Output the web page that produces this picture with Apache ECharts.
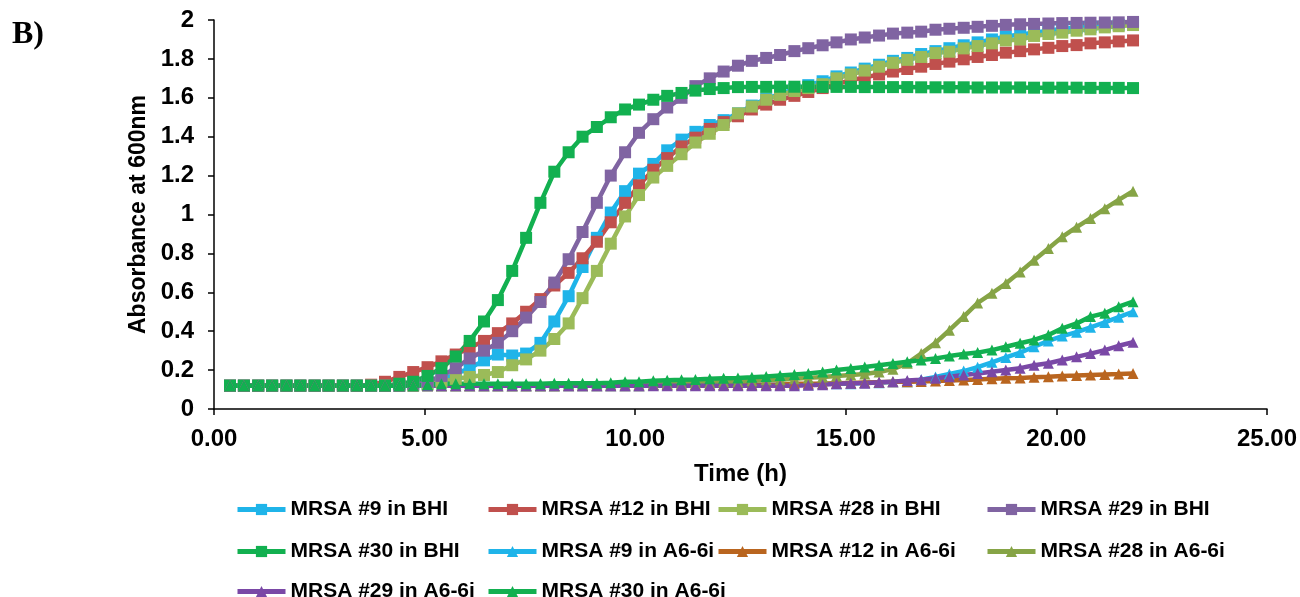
<!DOCTYPE html>
<html>
<head>
<meta charset="utf-8">
<script src="https://cdn.jsdelivr.net/npm/echarts@6/dist/echarts.min.js"></script>
<style>
  html, body { margin: 0; padding: 0; background: #fff; }
  #chart-container { width: 1300px; height: 597px; }
</style>
</head>
<body>
<div id="chart-container"></div>
<script>
// time points (h)
const times = [0.38, 0.71, 1.05, 1.38, 1.72, 2.05, 2.39, 2.72, 3.06, 3.39, 3.73, 4.06, 4.40, 4.73, 5.07, 5.40,
  5.74, 6.07, 6.41, 6.74, 7.08, 7.41, 7.75, 8.08, 8.42, 8.75, 9.09, 9.42, 9.76, 10.09, 10.43, 10.76,
  11.10, 11.43, 11.77, 12.10, 12.44, 12.77, 13.11, 13.44, 13.78, 14.11, 14.45, 14.78, 15.12, 15.45, 15.79, 16.12,
  16.46, 16.79, 17.13, 17.46, 17.80, 18.13, 18.47, 18.80, 19.14, 19.47, 19.81, 20.14, 20.48, 20.81, 21.15, 21.48, 21.82];

// absorbance at 600nm
const bhi9 = [0.12, 0.12, 0.12, 0.12, 0.12, 0.12, 0.12, 0.12, 0.12, 0.12, 0.12, 0.12, 0.12, 0.125,
  0.13, 0.15, 0.18, 0.21, 0.25, 0.28, 0.275, 0.285, 0.34, 0.45, 0.58, 0.73, 0.88, 1.01, 1.12, 1.21, 1.26,
  1.33, 1.385, 1.425, 1.46, 1.485, 1.52, 1.56, 1.595, 1.62, 1.645, 1.665, 1.685, 1.71, 1.73, 1.75, 1.77,
  1.79, 1.805, 1.825, 1.84, 1.855, 1.87, 1.885, 1.90, 1.915, 1.925, 1.935, 1.945, 1.955, 1.96, 1.965, 1.97, 1.975, 1.98];
const bhi12 = [0.12, 0.12, 0.12, 0.12, 0.12, 0.12, 0.12, 0.12, 0.12, 0.12,
  0.125, 0.14, 0.165, 0.19, 0.215, 0.245, 0.28, 0.315, 0.35, 0.39, 0.44, 0.50, 0.565, 0.635, 0.70, 0.775,
  0.86, 0.96, 1.06, 1.15, 1.23, 1.29, 1.35, 1.395, 1.44, 1.475, 1.505, 1.54, 1.565, 1.59, 1.61, 1.63,
  1.65, 1.67, 1.69, 1.705, 1.72, 1.735, 1.748, 1.76, 1.774, 1.786, 1.798, 1.81, 1.82, 1.832, 1.84, 1.849,
  1.857, 1.866, 1.871, 1.88, 1.885, 1.89, 1.895];
const bhi28 = [0.12, 0.12, 0.12, 0.12, 0.12, 0.12, 0.12, 0.12, 0.12, 0.12, 0.12, 0.12, 0.12, 0.12,
  0.125, 0.14, 0.155, 0.165, 0.175, 0.19, 0.225, 0.255, 0.30, 0.36, 0.44, 0.57, 0.71, 0.85, 0.99, 1.10,
  1.19, 1.25, 1.31, 1.37, 1.415, 1.46, 1.52, 1.555, 1.59, 1.615, 1.635, 1.65, 1.67, 1.70, 1.72, 1.74,
  1.76, 1.78, 1.795, 1.81, 1.83, 1.837, 1.854, 1.866, 1.88, 1.895, 1.90, 1.918, 1.928, 1.935, 1.945,
  1.952, 1.962, 1.968, 1.974];
const bhi29 = [0.12, 0.12, 0.12, 0.12, 0.12, 0.12, 0.12, 0.12, 0.12, 0.12, 0.12, 0.12, 0.12,
  0.13, 0.14, 0.17, 0.21, 0.26, 0.30, 0.34, 0.40, 0.47, 0.55, 0.65, 0.77, 0.91, 1.06, 1.20, 1.32, 1.42,
  1.49, 1.55, 1.60, 1.66, 1.70, 1.735, 1.765, 1.79, 1.805, 1.82, 1.84, 1.855, 1.87, 1.885, 1.90, 1.91,
  1.92, 1.93, 1.935, 1.94, 1.95, 1.955, 1.96, 1.965, 1.97, 1.975, 1.978, 1.98, 1.982, 1.984, 1.985,
  1.986, 1.987, 1.988, 1.99];
const bhi30 = [0.12, 0.12, 0.12, 0.12, 0.12, 0.12, 0.12, 0.12, 0.12, 0.12, 0.12, 0.12,
  0.13, 0.14, 0.17, 0.21, 0.27, 0.35, 0.45, 0.56, 0.71, 0.88, 1.06, 1.22, 1.32, 1.40, 1.45, 1.50, 1.54,
  1.565, 1.59, 1.61, 1.625, 1.637, 1.645, 1.65,
  1.655, 1.656, 1.656, 1.657, 1.657, 1.657, 1.656, 1.656, 1.656, 1.655, 1.655, 1.655, 1.655, 1.654,
  1.654, 1.654, 1.654, 1.653, 1.653, 1.653, 1.653, 1.652, 1.652, 1.652, 1.652, 1.651, 1.651, 1.651, 1.65];
const a9 = [0.12, 0.12, 0.12, 0.12, 0.12, 0.12, 0.12, 0.12, 0.12, 0.12, 0.12, 0.12, 0.12, 0.12, 0.12,
  0.12, 0.12, 0.12, 0.12, 0.12, 0.12, 0.12, 0.12, 0.12, 0.12, 0.12, 0.12, 0.12, 0.12, 0.12,
  0.125, 0.125, 0.125, 0.125, 0.125, 0.125, 0.125, 0.125, 0.125, 0.125, 0.125,
  0.125, 0.13, 0.13, 0.13, 0.135, 0.135, 0.14, 0.14, 0.15, 0.165, 0.18, 0.195, 0.215, 0.24, 0.265,
  0.29, 0.32, 0.35, 0.375, 0.395, 0.42, 0.445, 0.472, 0.50];
const a12 = [0.12, 0.12, 0.12, 0.12, 0.12, 0.12, 0.12, 0.12, 0.12, 0.12, 0.12, 0.12, 0.12, 0.12, 0.12,
  0.12, 0.12, 0.12, 0.12, 0.12, 0.12, 0.12, 0.12, 0.12, 0.12, 0.12, 0.12, 0.12, 0.12, 0.12,
  0.125, 0.125, 0.125, 0.125, 0.125, 0.125, 0.125, 0.125, 0.125, 0.125,
  0.13, 0.13, 0.13, 0.132, 0.134, 0.136, 0.138, 0.14, 0.14, 0.142, 0.144, 0.146, 0.149, 0.152, 0.155,
  0.158, 0.16, 0.163, 0.166, 0.17, 0.172, 0.175, 0.178, 0.18, 0.183];
const a28 = [0.12, 0.12, 0.12, 0.12, 0.12, 0.12, 0.12, 0.12, 0.12, 0.12, 0.12, 0.12, 0.12, 0.12, 0.12,
  0.12, 0.12, 0.12, 0.12, 0.12, 0.12, 0.12, 0.12, 0.12,
  0.125, 0.125, 0.125, 0.125, 0.125, 0.125, 0.125,
  0.13, 0.13, 0.135, 0.135, 0.14, 0.14, 0.145, 0.15, 0.15, 0.155, 0.16, 0.165, 0.17, 0.175, 0.18, 0.19,
  0.205, 0.235, 0.285, 0.34, 0.405, 0.475, 0.545, 0.595, 0.645, 0.705, 0.765, 0.825, 0.885, 0.935,
  0.98, 1.03, 1.075, 1.12];
const a29 = [0.12, 0.12, 0.12, 0.12, 0.12, 0.12, 0.12, 0.12, 0.12, 0.12, 0.12, 0.12, 0.12, 0.12, 0.12,
  0.12, 0.12, 0.12, 0.12, 0.12, 0.12, 0.12, 0.12, 0.12, 0.12, 0.12, 0.12, 0.12, 0.12, 0.12, 0.12,
  0.12, 0.12, 0.12, 0.12, 0.12, 0.12, 0.12, 0.12, 0.12, 0.12,
  0.122, 0.125, 0.13, 0.132, 0.133, 0.138, 0.14, 0.147, 0.15, 0.158, 0.166, 0.175, 0.183, 0.192, 0.20,
  0.21, 0.225, 0.235, 0.252, 0.268, 0.285, 0.303, 0.325, 0.343];
const a30 = [0.12, 0.12, 0.12, 0.12, 0.12, 0.12, 0.12, 0.12, 0.12, 0.12, 0.12, 0.12, 0.12, 0.12,
  0.125, 0.13, 0.13, 0.13, 0.13, 0.13, 0.13, 0.13, 0.13, 0.133, 0.133, 0.133, 0.133,
  0.135, 0.14, 0.14, 0.145, 0.148, 0.15, 0.152, 0.155, 0.158, 0.16, 0.163, 0.167, 0.172, 0.177, 0.183,
  0.19, 0.20, 0.208, 0.216, 0.225, 0.234, 0.243, 0.252, 0.26, 0.272, 0.283, 0.29, 0.303, 0.32, 0.338,
  0.355, 0.38, 0.415, 0.44, 0.475, 0.492, 0.526, 0.552];

const seriesNames = ['MRSA #9 in BHI', 'MRSA #12 in BHI', 'MRSA #28 in BHI', 'MRSA #29 in BHI', 'MRSA #30 in BHI',
  'MRSA #9 in A6-6i', 'MRSA #12 in A6-6i', 'MRSA #28 in A6-6i', 'MRSA #29 in A6-6i', 'MRSA #30 in A6-6i'];
const seriesValues = [bhi9, bhi12, bhi28, bhi29, bhi30, a9, a12, a28, a29, a30];
const seriesColors = ['#1fb4e9', '#c0504d', '#9bbb59', '#8064a2', '#12b050',
  '#1fb4e9', '#b9651f', '#86a446', '#7a48a6', '#12b050'];

const font = '"Liberation Sans", Arial, sans-serif';

const dom = document.getElementById('chart-container');
const myChart = echarts.init(dom, null, { renderer: 'canvas' });

const series = seriesNames.map((name, k) => ({
  name: name,
  type: 'line',
  data: times.map((t, i) => [t, seriesValues[k][i]]),
  symbol: k < 5 ? 'rect' : 'triangle',
  symbolSize: k < 5 ? 12 : 11,
  showAllSymbol: true,
  lineStyle: { width: 4.5, color: seriesColors[k] },
  itemStyle: { color: seriesColors[k] },
  emphasis: { disabled: true }
}));

// legend grid: 4 columns, 3 rows
const colX = [230, 481, 711, 980];
const rowY = [494, 536, 576];
const legends = seriesNames.map((name, k) => ({
  data: [name],
  left: colX[k % 4],
  top: rowY[Math.floor(k / 4)],
  itemWidth: 48,
  itemHeight: 14,
  itemGap: 0,
  lineStyle: { width: 5 },
  textStyle: { fontFamily: font, fontSize: 21, fontWeight: 'bold', color: '#000' }
}));

const option = {
  animation: false,
  backgroundColor: '#fff',
  title: {
    text: 'B)',
    left: 7,
    top: 14,
    textStyle: { fontFamily: '"Liberation Serif", "Times New Roman", serif', fontSize: 32, fontWeight: 'bold', color: '#000' }
  },
  legend: legends,
  grid: { left: 214, right: 33, top: 20, bottom: 188, containLabel: false },
  xAxis: {
    type: 'value',
    min: 0,
    max: 25,
    interval: 5,
    name: 'Time (h)',
    nameLocation: 'middle',
    nameGap: 53,
    nameTextStyle: { fontFamily: font, fontSize: 24, fontWeight: 'bold', color: '#000' },
    axisLine: { lineStyle: { color: '#000', width: 1.5 } },
    axisTick: { show: true, inside: false, length: 6, lineStyle: { color: '#000', width: 1.5 } },
    axisLabel: {
      margin: 18,
      fontFamily: font, fontSize: 24, fontWeight: 'bold', color: '#000',
      formatter: v => v.toFixed(2)
    },
    splitLine: { show: false }
  },
  yAxis: {
    type: 'value',
    min: 0,
    max: 2,
    interval: 0.2,
    name: 'Absorbance at 600nm',
    nameLocation: 'middle',
    nameGap: 62,
    nameTextStyle: { fontFamily: font, fontSize: 23, fontWeight: 'bold', color: '#000' },
    axisLine: { show: true, lineStyle: { color: '#000', width: 1.5 } },
    axisTick: { show: true, inside: false, length: 6, lineStyle: { color: '#000', width: 1.5 } },
    axisLabel: { margin: 20, fontFamily: font, fontSize: 24, fontWeight: 'bold', color: '#000' },
    splitLine: { show: false }
  },
  series: series
};

myChart.setOption(option);
window.addEventListener('resize', myChart.resize);
</script>
</body>
</html>
